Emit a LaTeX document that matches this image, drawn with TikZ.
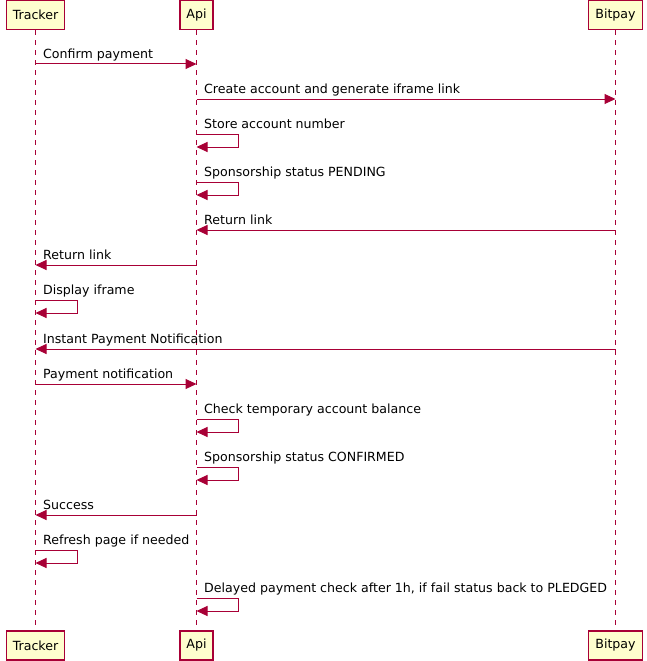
\documentclass[tikz,border=0pt]{standalone}
\usepackage{fontspec}
\setmainfont{DejaVu Sans}
\usetikzlibrary{arrows.meta}

\definecolor{umlred}{HTML}{A80036}
\definecolor{umlfill}{HTML}{FEFECE}

\begin{document}
\begin{tikzpicture}[
                            x=1pt,
                            y=-1pt,
                            >={Triangle[length=11pt,width=10pt]},
                            font=\fontsize{12.6}{15}\selectfont,
                            actor/.style={draw=umlred,fill=umlfill,line width=1.2pt,
                                          minimum height=29pt,minimum width=33pt,
                                          inner xsep=6.5pt,inner ysep=0pt},
                            lifeline/.style={draw=umlred,line width=1pt,dash pattern=on 5pt off 5pt},
                            msg/.style={->,draw=umlred,line width=1pt},
                            msglabel/.style={anchor=base west,yshift=5.5pt,inner sep=0pt}
                        ]
                        \useasboundingbox (0,0) rectangle (647,661);

                        % participants
                        \node[actor] (trTop)  at (35.5,15)  {Tracker};
                        \node[actor] (apiTop) at (196.5,15) {Api};
                        \node[actor] (bpTop)  at (615.5,15) {Bitpay};
                        \node[actor] (trBot)  at (35.5,645.5)  {Tracker};
                        \node[actor] (apiBot) at (196.5,645.5) {Api};
                        \node[actor] (bpBot)  at (615.5,645.5) {Bitpay};

                        \draw[lifeline] (trTop)  -- (trBot);
                        \draw[lifeline] (apiTop) -- (apiBot);
                        \draw[lifeline] (bpTop)  -- (bpBot);

                        % straight messages
                        \foreach \a/\b/\lab/\y/\txt in {
                            trTop/apiTop/trTop/64/{Confirm payment},
                            apiTop/bpTop/apiTop/99/{Create account and generate iframe link},
                            bpTop/apiTop/apiTop/230/{Return link},
                            apiTop/trTop/trTop/265/{Return link},
                            bpTop/trTop/trTop/349/{Instant Payment Notification},
                            trTop/apiTop/trTop/384/{Payment notification},
                            apiTop/trTop/trTop/515/{Success}}
                        {
                            \draw[msg] (\a |- 0,\y) -- (\b |- 0,\y);
                            \node[msglabel] at ([xshift=7.5pt]\lab |- 0,\y) {\txt};
                        }

                        % self messages
                        \foreach \a/\y/\txt in {
                            apiTop/134/{Store account number},
                            apiTop/182/{Sponsorship status PENDING},
                            trTop/300/{Display iframe},
                            apiTop/419/{Check temporary account balance},
                            apiTop/467/{Sponsorship status CONFIRMED},
                            trTop/550/{Refresh page if needed},
                            apiTop/598/{Delayed payment check after 1h, if fail status back to PLEDGED}}
                        {
                            \draw[msg] (\a |- 0,\y) -- ++(42,0) -- ++(0,13) -- (\a |- 0,\y+13);
                            \node[msglabel] at ([xshift=7.5pt]\a |- 0,\y) {\txt};
                        }
                    \end{tikzpicture}
\end{document}
